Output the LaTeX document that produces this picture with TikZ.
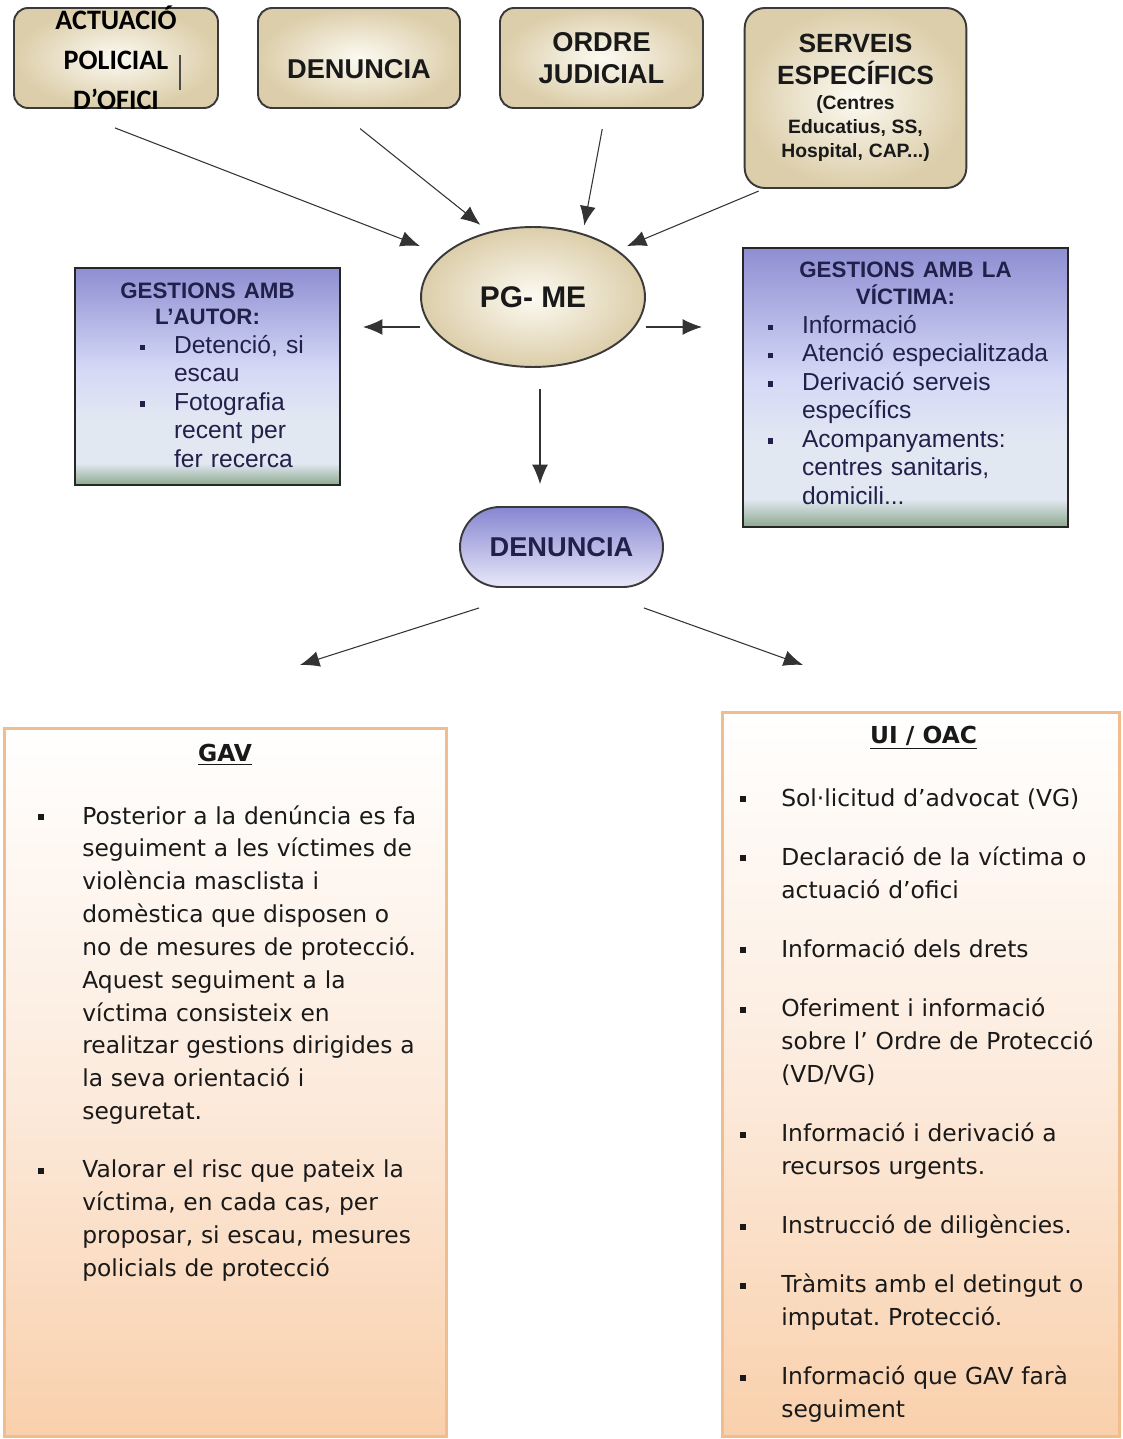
\documentclass[tikz,border=0pt]{standalone}
\usepackage{fontspec}
\setmainfont{Liberation Sans}
\newfontfamily\calib{Carlito}
\newfontfamily\verd{DejaVu Sans}
\usetikzlibrary{arrows.meta,positioning,shapes.geometric,calc}
\frenchspacing

\definecolor{boxline}{HTML}{3A3A3A}
\definecolor{beigeIn}{HTML}{FCFAF2}
\definecolor{beigeOut}{HTML}{DCCEAA}
\definecolor{lilacTop}{HTML}{8E8ED2}
\definecolor{lilacMid}{HTML}{D4D8F6}
\definecolor{lilacLow}{HTML}{E2E8F2}
\definecolor{sage}{HTML}{8CA88E}
\definecolor{navy}{HTML}{20204A}
\definecolor{pillTop}{HTML}{8686D2}
\definecolor{pillLow}{HTML}{E8E8FA}
\definecolor{peach}{HTML}{F9D0AC}
\definecolor{peachMid}{HTML}{FCEBDD}
\definecolor{peachLine}{HTML}{EFBD8E}

\pgfdeclareverticalshading{lilac}{100bp}{color(0bp)=(sage); color(25bp)=(sage);
  color(30bp)=(lilacLow); color(40bp)=(lilacLow); color(52bp)=(lilacMid);
  color(75bp)=(lilacTop); color(100bp)=(lilacTop)}

\newlength\bulind \newlength\txtind \newlength\bulsz \newlength\bulraise \newlength\itemgap
\newcommand{\bul}[1]{\noindent\hspace*{\bulind}\makebox[\dimexpr\txtind-\bulind\relax][l]{\raisebox{\bulraise}{\rule{\bulsz}{\bulsz}}}#1}
\newcommand{\fst}[1]{\par\bul{#1}}
\newcommand{\nxt}[1]{\par\noindent\hspace*{\txtind}#1}
\newcommand{\gap}{\par\vspace{\itemgap}}

\begin{document}
\begin{tikzpicture}[x=0.02cm, y=-0.02cm,
    beigebox/.style={draw=boxline, line width=1.1pt, rounded corners=0.28cm, inner color=beigeIn, outer color=beigeOut},
    bluebox/.style={draw=black!85, line width=1.2pt, shading=lilac},
    pillbox/.style={draw=boxline, line width=1.1pt, rounded corners=0.8cm, top color=pillTop, bottom color=pillLow},
    peachbox/.style={draw=peachLine, line width=1.7pt, top color=white, bottom color=peach, middle color=peachMid},
    toptxt/.style={font=\bfseries\fontsize{15.5}{17.9}\selectfont, text=black!90, align=center},
    bluetxt/.style={font=\fontsize{14}{16.2}\selectfont, text=navy, inner sep=0pt},
    verdtxt/.style={font=\verd\fontsize{13.3}{18.7}\selectfont, text=black!90, inner sep=0pt},
    verdttl/.style={font=\verd\bfseries\fontsize{13.3}{16}\selectfont, text=black!90},
    arr/.style={draw=black!80, line width=0.6pt, -{Latex[length=11pt,width=9pt]}}]
\useasboundingbox (0,0) rectangle (1122,1439);

\node[beigebox, minimum width=4.08cm, minimum height=2cm] (act) at (116,58) {};
\node[font=\calib\bfseries\fontsize{16}{22.7}\selectfont, align=center] (actTxt) at (act.center) {ACTUACIÓ\\POLICIAL\\D’OFICI};
\draw[line width=0.6pt, black!70] (180,55) -- (180,90);
\node[beigebox, toptxt, minimum width=4.04cm, minimum height=2cm, text height=23pt, text depth=0pt] (den) at (359,58) {DENUNCIA};
\node[beigebox, toptxt, minimum width=4.06cm, minimum height=2cm] (ord) at (601.5,58) {ORDRE\\JUDICIAL};
\node[beigebox, rounded corners=0.4cm, minimum width=4.42cm, minimum height=3.6cm, text width=4.2cm, align=center, font=\bfseries, text=black!90] (srv) at (855.5,98)
  {{\fontsize{15}{17.9}\selectfont SERVEIS\par ESPECÍFICS\par}\vspace{1pt}{\fontsize{11}{13.6}\selectfont (Centres\par Educatius, SS,\par Hospital, CAP...)\par}};

\node[ellipse, draw=boxline, line width=1.1pt, inner color=beigeIn, outer color=beigeOut, minimum width=4.48cm, minimum height=2.8cm,
  font=\bfseries\fontsize{17}{20}\selectfont, text=black!90] (pg) at (533,297) {PG- ME};

\node[bluebox, minimum width=5.3cm, minimum height=4.34cm] (aut) at (207.5,376.5) {};
\node[bluetxt, text width=4.5cm, anchor=base] (autTxt) at (207.5,298) {\setlength\bulind{0.9cm}\setlength\txtind{1.58cm}%
  \setlength\bulsz{3pt}\setlength\bulraise{2pt}%
  {\centering\bfseries\fontsize{12.7}{15.3}\selectfont GESTIONS AMB\par L'AUTOR:\par}%
  \fst{Detenció, si}\nxt{escau}\fst{Fotografia}\nxt{recent per}\nxt{fer recerca}\par};

\node[bluebox, minimum width=6.5cm, minimum height=5.58cm] (vic) at (905.5,387.5) {};
\node[bluetxt, text width=6.2cm, anchor=base] (vicTxt) at (905.5,278) {\setlength\bulind{0.35cm}\setlength\txtind{1.03cm}%
  \setlength\bulsz{3pt}\setlength\bulraise{2pt}%
  {\centering\bfseries\fontsize{12.7}{15.3}\selectfont GESTIONS AMB LA\par VÍCTIMA:\par}%
  \fst{Informació}\fst{Atenció especialitzada}\fst{Derivació serveis}\nxt{específics}%
  \fst{Acompanyaments:}\nxt{centres sanitaris,}\nxt{domicili...}\par};

\node[pillbox, toptxt, text=navy, minimum width=4.06cm, minimum height=1.6cm] (pill) at (561.5,547) {DENUNCIA};

\node[peachbox, minimum width=8.86cm, minimum height=14.18cm] (gav) at (225.5,1082.5) {};
\node[verdttl] (gavTtl) at (225,755) {\underline{GAV}};
\node[verdtxt, text width=8.1cm, anchor=base west] (gavTxt) at (38,824) {\setlength\bulind{0pt}\setlength\txtind{0.88cm}%
  \setlength\bulsz{3.4pt}\setlength\bulraise{2.2pt}\setlength\itemgap{14.4pt}%
  \bul{Posterior a la denúncia es fa}\nxt{seguiment a les víctimes de}\nxt{violència masclista i}%
  \nxt{domèstica que disposen o}\nxt{no de mesures de protecció.}\nxt{Aquest seguiment a la}%
  \nxt{víctima consisteix en}\nxt{realitzar gestions dirigides a}\nxt{la seva orientació i}\nxt{seguretat.}\gap
  \fst{Valorar el risc que pateix la}\nxt{víctima, en cada cas, per}\nxt{proposar, si escau, mesures}%
  \nxt{policials de protecció}\par};

\node[peachbox, minimum width=7.96cm, minimum height=14.5cm] (ui) at (921,1074.5) {};
\node[verdttl] (uiTtl) at (923.5,738) {\underline{UI / OAC}};
\node[verdtxt, text width=7.4cm, anchor=base west] (uiTxt) at (740,806) {\setlength\bulind{0pt}\setlength\txtind{0.82cm}%
  \setlength\bulsz{3.4pt}\setlength\bulraise{2.2pt}\setlength\itemgap{15pt}%
  \bul{Sol·licitud d’advocat (VG)}\gap
  \fst{Declaració de la víctima o}\nxt{actuació d’ofici}\gap
  \fst{Informació dels drets}\gap
  \fst{Oferiment i informació}\nxt{sobre l’ Ordre de Protecció}\nxt{(VD/VG)}\gap
  \fst{Informació i derivació a}\nxt{recursos urgents.}\gap
  \fst{Instrucció de diligències.}\gap
  \fst{Tràmits amb el detingut o}\nxt{imputat. Protecció.}\gap
  \fst{Informació que GAV farà}\nxt{seguiment}\par};

\draw[arr, shorten <=1.05cm, shorten >=0.48cm] ([xshift=-1cm]act.south) -- (pg.155.6);
\draw[arr, shorten <=0.63cm, shorten >=0.22cm] ([xshift=-0.47cm]den.south) -- (pg.124.8);
\draw[arr, shorten <=0.41cm, shorten >=0.16cm] ([xshift=0.09cm]ord.south) -- (pg.52.5);
\draw[arr, shorten <=0.11cm, shorten >=0.2cm] ([xshift=0.4cm]srv.south west) -- (pg.29.7);
\draw[arr, shorten >=0.44cm] ([yshift=-0.6cm]pg.west) coordinate (pgL) -- (pgL -| aut.east);
\draw[arr, shorten >=0.8cm] ([yshift=-0.6cm]pg.east) coordinate (pgR) -- (pgR -| vic.west);
\draw[arr, shorten <=0.42cm, shorten >=0.44cm] ([xshift=0.14cm]pg.south) coordinate (pgS) -- (pgS |- pill.north);
\coordinate (gavIn) at (300,665);
\coordinate (uiIn) at (803,665);
\draw[arr] ([shift={(0.4cm,-0.4cm)}]pill.south west) -- (gavIn);
\draw[arr] ([shift={(-0.4cm,-0.4cm)}]pill.south east) -- (uiIn);
\end{tikzpicture}
\end{document}
